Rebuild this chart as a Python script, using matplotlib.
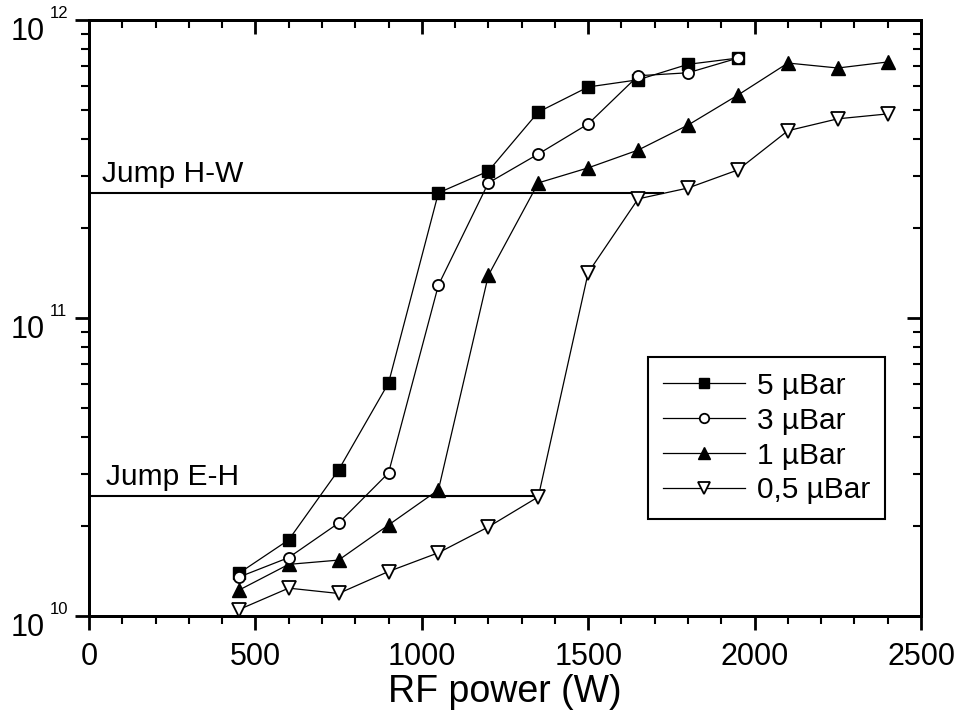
import matplotlib
matplotlib.use("Agg")
import matplotlib.pyplot as plt
from matplotlib.ticker import LogLocator, MultipleLocator, NullFormatter, FixedLocator

plt.rcParams['font.family'] = ['Liberation Sans', 'DejaVu Sans']

power = [450, 600, 750, 900, 1050, 1200, 1350, 1500, 1650, 1800, 1950, 2100, 2250, 2400]

p5 = [1.39e10, 1.80e10, 3.09e10, 6.05e10, 2.63e11, 3.11e11, 4.91e11, 5.96e11, 6.3e11, 7.1e11, 7.45e11]
p3 = [1.35e10, 1.57e10, 2.05e10, 3.02e10, 1.29e11, 2.84e11, 3.55e11, 4.48e11, 6.5e11, 6.65e11, 7.45e11]
p1 = [1.22e10, 1.49e10, 1.54e10, 2.02e10, 2.65e10, 1.39e11, 2.84e11, 3.19e11, 3.66e11, 4.44e11, 5.6e11,
      7.17e11, 6.9e11, 7.23e11]
p05 = [1.05e10, 1.24e10, 1.19e10, 1.41e10, 1.63e10, 1.99e10, 2.51e10, 1.42e11, 2.51e11, 2.73e11, 3.14e11,
       4.25e11, 4.66e11, 4.84e11]

labels = ['5 µBar', '3 µBar', '1 µBar', '0,5 µBar']

y_major = [1e10, 1e11, 1e12]
y_exponents = ['10', '11', '12']

jump_hw = 2.63e11
jump_hw_end = 1725
jump_eh = 2.53e10
jump_eh_end = 1350

fig = plt.figure(figsize=(9.62, 7.24), dpi=100)
ax = fig.add_axes([0.0925, 0.1492, 0.8649, 0.8232])

lw = 0.9
ax.plot(power[:len(p5)], p5, '-s', color='black', lw=lw, ms=8.5, mfc='black', mec='black', label=labels[0], zorder=3)
ax.plot(power[:len(p3)], p3, '-o', color='black', lw=lw, ms=8, mfc='white', mec='black', mew=1.3, label=labels[1], zorder=4)
ax.plot(power[:len(p1)], p1, '-^', color='black', lw=lw, ms=9.5, mfc='black', mec='black', label=labels[2], zorder=3)
ax.plot(power[:len(p05)], p05, '-v', color='black', lw=lw, ms=9.5, mfc='white', mec='black', mew=1.3, label=labels[3], zorder=3)

ax.plot([0, jump_hw_end], [jump_hw, jump_hw], color='black', lw=1.5, zorder=2)
ax.plot([0, jump_eh_end], [jump_eh, jump_eh], color='black', lw=1.5, zorder=2)
ax.text(40, jump_hw * 1.04, 'Jump H-W', fontsize=21.5, ha='left', va='bottom')
ax.text(50, jump_eh * 1.04, 'Jump E-H', fontsize=21.5, ha='left', va='bottom')

ax.set_yscale('log')
ax.set_xlim(0, 2500)
ax.set_ylim(1e10, 1e12)

ax.xaxis.set_major_locator(MultipleLocator(500))
ax.xaxis.set_minor_locator(MultipleLocator(100))
ax.yaxis.set_major_locator(FixedLocator(y_major))
ax.yaxis.set_major_formatter(NullFormatter())
ax.yaxis.set_minor_locator(LogLocator(base=10, subs=range(2, 10)))
ax.yaxis.set_minor_formatter(NullFormatter())

# y tick labels drawn as "10" with a small exponent
for v, e in zip(y_major, y_exponents):
    ax.annotate('10', xy=(0, v), xycoords=('axes fraction', 'data'), xytext=(-31.5, -8.5),
                textcoords='offset points', ha='right', va='center', fontsize=22, annotation_clip=False)
    ax.annotate(e, xy=(0, v), xycoords=('axes fraction', 'data'), xytext=(-28.5, 4.5),
                textcoords='offset points', ha='left', va='center', fontsize=12, annotation_clip=False)

for s in ax.spines.values():
    s.set_linewidth(2)

ax.tick_params(which='major', direction='out', length=10, width=2, labelsize=22, pad=9)
ax.tick_params(which='minor', direction='out', length=6, width=1.5)

ax2 = ax.twinx()
ax2.set_yscale('log')
ax2.set_ylim(1e10, 1e12)
ax2.yaxis.set_major_locator(FixedLocator(y_major))
ax2.yaxis.set_minor_locator(LogLocator(base=10, subs=range(2, 10)))
ax2.yaxis.set_major_formatter(NullFormatter())
ax2.yaxis.set_minor_formatter(NullFormatter())
ax2.tick_params(which='major', direction='in', length=10, width=2)
ax2.tick_params(which='minor', direction='in', length=6, width=1.5)

ax3 = ax.twiny()
ax3.set_xlim(0, 2500)
ax3.xaxis.set_major_locator(MultipleLocator(500))
ax3.xaxis.set_minor_locator(MultipleLocator(100))
ax3.xaxis.set_major_formatter(NullFormatter())
ax3.tick_params(which='major', direction='in', length=10, width=2)
ax3.tick_params(which='minor', direction='in', length=6, width=1.5)
for a in (ax2, ax3):
    for s in a.spines.values():
        s.set_linewidth(2)

ax.set_xlabel('RF power (W)', fontsize=27, labelpad=1)

leg = ax.legend(loc='upper left', bbox_to_anchor=(0.672, 0.4346), fontsize=21.5, frameon=True,
                fancybox=False, edgecolor='black', framealpha=1, handlelength=2.75, markerscale=0.85,
                labelspacing=0.23, borderpad=0.5, handletextpad=0.4, borderaxespad=0)
leg.get_frame().set_linewidth(1.5)

fig.savefig('out.png', dpi=100)
